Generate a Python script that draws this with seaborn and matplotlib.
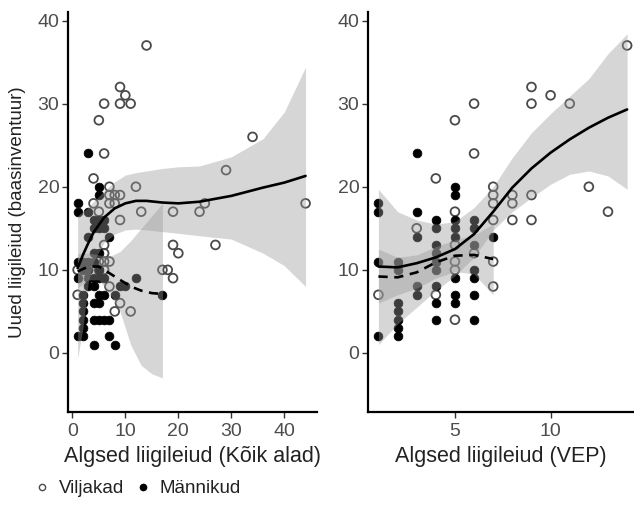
import matplotlib
matplotlib.use('Agg')
import matplotlib.pyplot as plt
from matplotlib.lines import Line2D
import seaborn as sns
import pandas as pd

# --- scatter data ---
# left panel: all areas
vil_all_x = [14, 9, 10, 6, 9, 11, 5, 6, 4, 7, 12, 7, 8, 9, 4, 7, 8, 25, 44, 5, 13, 19, 24,
             34, 29, 27, 19, 20, 17, 18, 19, 9, 6, 6, 5, 6, 7, 5, 6, 1, 1, 7, 9, 8, 11]
vil_all_y = [37, 32, 31, 30, 30, 30, 28, 24, 21, 20, 20, 19, 19, 19, 18, 18, 18, 18, 18, 17, 17, 17, 17,
             26, 22, 13, 13, 12, 10, 10, 9, 16, 13, 12, 11, 11, 11, 10, 10, 10, 7, 8, 6, 5, 5]
man_all_x = [3, 5, 5, 1, 1, 3, 4, 5, 6, 4, 5, 6, 3, 7, 4, 5, 1, 2, 3, 4, 2, 3, 5, 1, 3, 4, 5, 6, 12,
             3, 4, 9, 10, 2, 5, 6, 8, 17, 2, 4, 5, 2, 2, 4, 5, 6, 7, 2, 1, 2, 7, 4, 8]
man_all_y = [24, 20, 19, 18, 17, 17, 16, 16, 16, 15, 15, 15, 14, 14, 12, 12, 11, 11, 11, 11, 10, 10, 10,
             9, 9, 9, 9, 9, 9, 8, 8, 8, 8, 7, 7, 7, 7, 7, 6, 6, 6, 5, 4, 4, 4, 4, 4, 3, 2, 2, 2, 1, 1]

# right panel: VEP
vil_vep_x = [1, 3, 4, 4, 5, 5, 5, 5, 5, 5, 6, 6, 6, 7, 7, 7, 7, 7, 7, 8, 8, 8, 9, 9, 9, 9, 10, 11, 12, 13, 14]
vil_vep_y = [7, 15, 21, 7, 28, 17, 13, 11, 10, 4, 30, 24, 12, 20, 19, 18, 16, 11, 8, 19, 18, 16, 32, 30, 19, 16,
             31, 30, 20, 17, 37]
man_vep_x = [1, 1, 1, 1, 2, 2, 2, 2, 2, 2, 2, 3, 3, 3, 3, 3, 4, 4, 4, 4, 4, 4, 4, 4, 4,
             5, 5, 5, 5, 5, 5, 5, 5, 6, 6, 6, 6, 6, 6, 6, 7]
man_vep_y = [18, 17, 11, 2, 11, 10, 6, 5, 4, 3, 2, 24, 17, 14, 8, 7, 16, 15, 13, 12, 11, 10, 8, 6, 4,
             20, 19, 16, 15, 14, 9, 7, 6, 16, 15, 13, 10, 9, 7, 4, 14]

# --- smoothed curves with confidence band ---
vil_all_sx = [1, 2, 3, 4, 6, 8, 10, 12, 14, 17, 20, 24, 30, 36, 40, 44]
vil_all_fit = [10.2, 11.8, 13.2, 14.5, 16.3, 17.4, 18.0, 18.3, 18.3, 18.1, 18.0, 18.2, 18.9, 19.9, 20.5, 21.3]
vil_all_lo = [-0.6, 3.0, 8.5, 11.0, 13.3, 14.3, 14.8, 14.9, 14.8, 14.6, 14.4, 14.1, 13.7, 12.0, 10.5, 8.0]
vil_all_hi = [16.5, 17.0, 17.5, 18.2, 19.5, 20.6, 21.4, 21.7, 21.9, 22.2, 22.4, 22.5, 23.6, 25.8, 29.0, 34.4]

man_all_sx = [1, 3, 5, 7, 9, 11, 13, 15, 17]
man_all_fit = [9.8, 10.4, 10.4, 9.6, 8.8, 8.0, 7.5, 7.2, 7.1]
man_all_lo = [7.8, 8.8, 8.8, 7.2, 5.0, 1.0, -1.5, -2.5, -3.0]
man_all_hi = [12.0, 12.0, 11.8, 11.6, 12.2, 13.5, 15.0, 16.5, 18.0]

vil_vep_sx = [1, 2, 3, 4, 5, 6, 7, 8, 9, 10, 11, 12, 13, 14]
vil_vep_fit = [10.4, 10.3, 10.8, 11.5, 12.5, 14.3, 17.0, 19.9, 22.2, 24.1, 25.7, 27.1, 28.3, 29.3]
vil_vep_lo = [1.0, 3.5, 5.5, 7.5, 9.3, 11.5, 14.8, 17.0, 18.7, 20.3, 21.5, 21.9, 21.3, 19.7]
vil_vep_hi = [19.7, 17.0, 16.0, 15.5, 15.8, 17.5, 20.0, 23.5, 26.5, 28.8, 30.9, 33.0, 36.0, 38.4]

man_vep_sx = [1, 2, 3, 4, 5, 6, 7]
man_vep_fit = [9.2, 9.1, 9.7, 10.9, 11.7, 11.8, 11.3]
man_vep_lo = [6.0, 7.0, 7.8, 9.0, 9.8, 9.5, 7.0]
man_vep_hi = [12.5, 11.5, 11.8, 12.8, 13.6, 14.2, 15.5]

sns.set_style('ticks')
plt.rcParams['font.family'] = ['Liberation Sans', 'DejaVu Sans']

fig = plt.figure(figsize=(6.34, 5.08), dpi=100)
ax1 = fig.add_axes([0.1068, 0.189, 0.3927, 0.787])
ax2 = fig.add_axes([0.58, 0.189, 0.42, 0.787])

panels = [
    (ax1, vil_all_x, vil_all_y, man_all_x, man_all_y,
     (vil_all_sx, vil_all_fit, vil_all_lo, vil_all_hi),
     (man_all_sx, man_all_fit, man_all_lo, man_all_hi),
     'Algsed liigileiud (Kõik alad)', (-0.87, 46.1), [0, 10, 20, 30, 40]),
    (ax2, vil_vep_x, vil_vep_y, man_vep_x, man_vep_y,
     (vil_vep_sx, vil_vep_fit, vil_vep_lo, vil_vep_hi),
     (man_vep_sx, man_vep_fit, man_vep_lo, man_vep_hi),
     'Algsed liigileiud (VEP)', (0.44, 14.36), [5, 10]),
]

for ax, vx, vy, mx, my, vs, ms, xlab, xlim, xt in panels:
    # points first, band over them (gives the grey look of points under the band)
    sns.scatterplot(x=vx, y=vy, ax=ax, facecolors='none', edgecolor='#4a4a4a',
                    linewidth=1.3, s=40, zorder=1)
    sns.scatterplot(x=mx, y=my, ax=ax, color='black', edgecolor='black',
                    linewidth=0.5, s=40, zorder=1)
    for sx, fit, lo, hi in (vs, ms):
        ax.fill_between(sx, lo, hi, color='#999999', alpha=0.4, linewidth=0, zorder=2)
    sns.lineplot(x=vs[0], y=vs[1], ax=ax, color='black', linewidth=1.9, zorder=3)
    sns.lineplot(x=ms[0], y=ms[1], ax=ax, color='black', linewidth=1.9,
                 linestyle=(0, (3.5, 2.5)), zorder=3)

    ax.set_xlim(*xlim)
    ax.set_ylim(-7.1, 41.0)
    ax.set_xticks(xt)
    ax.set_yticks([0, 10, 20, 30, 40])
    ax.set_xlabel(xlab, fontsize=15.5, color='#222222', labelpad=4)
    sns.despine(ax=ax)
    for sp in ('left', 'bottom'):
        ax.spines[sp].set_linewidth(1.6)
        ax.spines[sp].set_color('black')
    ax.tick_params(length=4, width=1, color='#333333', labelcolor='#4d4d4d',
                   labelsize=14, pad=2)
    ax.tick_params(axis='x', pad=4)

ax1.set_ylabel('Uued liigileiud (baasinventuur)', fontsize=13.5, color='#222222', labelpad=8)
ax2.set_ylabel('')

handles = [
    Line2D([], [], marker='o', ls='', mfc='none', mec='#4a4a4a', mew=1.0, ms=4.5, label='Viljakad'),
    Line2D([], [], marker='o', ls='', mfc='black', mec='black', ms=4.5, label='Männikud'),
]
fig.legend(handles=handles, loc='lower left', bbox_to_anchor=(0.025, -0.012), ncol=2,
           frameon=False, fontsize=13.5, handletextpad=0.4, columnspacing=0.5,
           handlelength=1.0, labelcolor='#222222')

fig.savefig('out.png', dpi=100)
